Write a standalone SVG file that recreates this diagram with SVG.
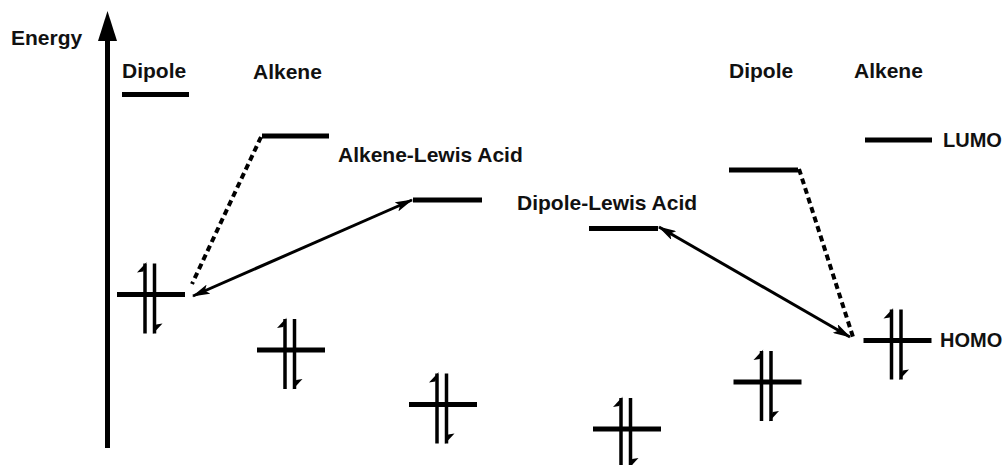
<svg xmlns="http://www.w3.org/2000/svg" width="1006" height="465" viewBox="0 0 1006 465">
<style>
text{font-family:"Liberation Sans",Arial,sans-serif;font-weight:bold;font-size:21px;fill:#111}
.lvl{stroke:#000;stroke-width:5;fill:none}
.spin{stroke:#000;stroke-width:3.5;fill:none}
.barb{fill:#000}
.dash{stroke:#000;stroke-width:4;stroke-dasharray:6 4;fill:none}
.arr{stroke:#000;stroke-width:3;fill:none;marker-start:url(#ah);marker-end:url(#ah)}
</style>
<defs>
<marker id="ah" viewBox="0 0 18 10" refX="17" refY="5" markerWidth="18" markerHeight="10" markerUnits="userSpaceOnUse" orient="auto-start-reverse">
<path d="M0,0 L18,5 L0,10 L4,5 Z" fill="#000"/>
</marker>
<g id="pair">
<line class="lvl" x1="-34" y1="0" x2="34" y2="0"/>
<line class="spin" x1="-6" y1="-31" x2="-6" y2="39"/>
<polygon class="barb" points="-4.25,-32.5 -14,-22 -7.75,-23"/>
<line class="spin" x1="3.5" y1="-31" x2="3.5" y2="39"/>
<polygon class="barb" points="1.75,39.5 11.5,29 5.25,30"/>
</g>
</defs>
<rect width="1006" height="465" fill="#fff"/>
<g id="axis">
<line x1="107.5" y1="38" x2="107.5" y2="448" stroke="#000" stroke-width="5"/>
<polygon points="107.5,11 117,41 98,41" fill="#000"/>
<text x="11" y="45">Energy</text>
</g>
<g id="labels">
<text x="122" y="78">Dipole</text>
<text x="253" y="79">Alkene</text>
<text x="729" y="78">Dipole</text>
<text x="854" y="78">Alkene</text>
<text x="338" y="162">Alkene-Lewis Acid</text>
<text x="517" y="210">Dipole-Lewis Acid</text>
<text x="943" y="147" style="font-size:20px">LUMO</text>
<text x="940" y="347" style="font-size:20px">HOMO</text>
</g>
<g id="lumo-dipole-left"><line class="lvl" x1="122" y1="94.5" x2="189" y2="94.5"/></g>
<g id="lumo-alkene-left"><line class="lvl" x1="262" y1="136" x2="329" y2="136"/></g>
<g id="lumo-alkene-lewis"><line class="lvl" x1="413" y1="200" x2="482" y2="200"/></g>
<g id="lumo-dipole-lewis"><line class="lvl" x1="589" y1="228.5" x2="658" y2="228.5"/></g>
<g id="lumo-dipole-right"><line class="lvl" x1="729" y1="170" x2="798" y2="170"/></g>
<g id="lumo-alkene-right"><line class="lvl" x1="865" y1="140" x2="932" y2="140"/></g>
<g id="homo-dipole-left"><use href="#pair" transform="translate(151,294.5)"/></g>
<g id="homo-alkene-left"><use href="#pair" transform="translate(291,350)"/></g>
<g id="homo-alkene-lewis"><use href="#pair" transform="translate(443,404.5)"/></g>
<g id="homo-dipole-lewis"><use href="#pair" transform="translate(627,429)"/></g>
<g id="homo-dipole-right"><use href="#pair" transform="translate(767.5,382)"/></g>
<g id="homo-alkene-right"><use href="#pair" transform="translate(897.5,340.5)"/></g>
<g id="connectors">
<line class="dash" x1="261" y1="137" x2="192" y2="284"/>
<line class="arr" x1="193" y1="296" x2="412" y2="200"/>
<line class="dash" x1="799" y1="169" x2="854" y2="340"/>
<line class="arr" x1="659" y1="227" x2="850" y2="337"/>
</g>
</svg>
